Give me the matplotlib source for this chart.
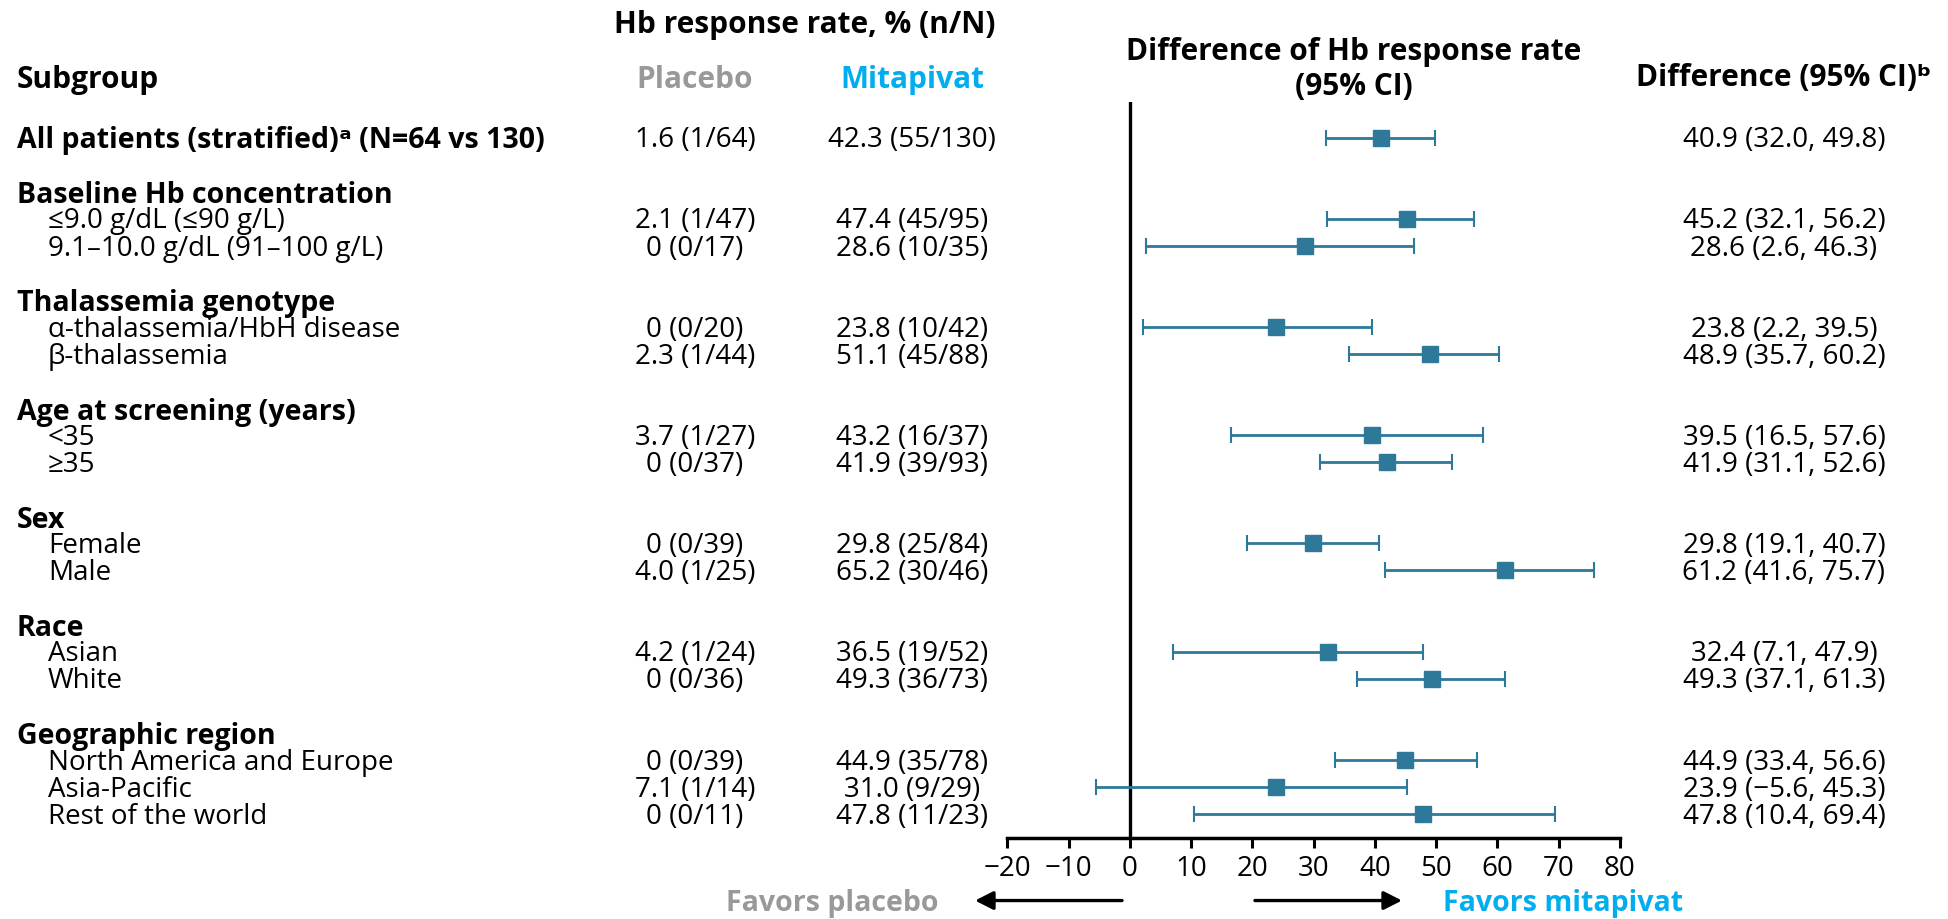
import matplotlib
matplotlib.use('Agg')
import matplotlib.pyplot as plt
from matplotlib.transforms import blended_transform_factory

plt.rcParams['font.family'] = ['Open Sans', 'DejaVu Sans']

# subgroup table
groupNames = ['Baseline Hb concentration', 'Thalassemia genotype', 'Age at screening (years)',
              'Sex', 'Race', 'Geographic region']
groupFirstRow = [1, 3, 5, 7, 9, 11]
rowLabels = ['All patients (stratified)\u1d43 (N=64 vs 130)',
             '\u22649.0 g/dL (\u226490 g/L)', '9.1\u201310.0 g/dL (91\u2013100 g/L)',
             '\u03b1-thalassemia/HbH disease', '\u03b2-thalassemia',
             '<35', '\u226535',
             'Female', 'Male',
             'Asian', 'White',
             'North America and Europe', 'Asia-Pacific', 'Rest of the world']
placeboRate = [1.6, 2.1, 0, 0, 2.3, 3.7, 0, 0, 4.0, 4.2, 0, 0, 7.1, 0]
placeboN = [1, 1, 0, 0, 1, 1, 0, 0, 1, 1, 0, 0, 1, 0]
placeboTotal = [64, 47, 17, 20, 44, 27, 37, 39, 25, 24, 36, 39, 14, 11]
mitapivatRate = [42.3, 47.4, 28.6, 23.8, 51.1, 43.2, 41.9, 29.8, 65.2, 36.5, 49.3, 44.9, 31.0, 47.8]
mitapivatN = [55, 45, 10, 10, 45, 16, 39, 25, 30, 19, 36, 35, 9, 11]
mitapivatTotal = [130, 95, 35, 42, 88, 37, 93, 84, 46, 52, 73, 78, 29, 23]
difference = [40.9, 45.2, 28.6, 23.8, 48.9, 39.5, 41.9, 29.8, 61.2, 32.4, 49.3, 44.9, 23.9, 47.8]
ciLow = [32.0, 32.1, 2.6, 2.2, 35.7, 16.5, 31.1, 19.1, 41.6, 7.1, 37.1, 33.4, -5.6, 10.4]
ciHigh = [49.8, 56.2, 46.3, 39.5, 60.2, 57.6, 52.6, 40.7, 75.7, 47.9, 61.3, 56.6, 45.3, 69.4]
xTicks = [-20, -10, 0, 10, 20, 30, 40, 50, 60, 70, 80]

# vertical slot of each row (groups separated by an extra gap)
rowPos = [0, 3, 4, 7, 8, 11, 12, 15, 16, 19, 20, 23, 24, 25]

BAR_COLOR = '#2E789A'
PLACEBO_COLOR = '#999999'
MITAPIVAT_COLOR = '#00AEEF'
BODY = 20
HEAD = 20.5
COLHEAD = 21.5
TEXT_SHIFT = 0.1   # row text sits a touch below the bars

W, H = 1949, 919
fig = plt.figure(figsize=(W / 100, H / 100), dpi=100)
ax = fig.add_axes([1007.5 / W, (H - 837.5) / H, 612.5 / W, 735.5 / H])
ax.set_xlim(-20, 80)
ax.set_ylim(25.87, -1.316)

for s in ['top', 'right', 'left']:
    ax.spines[s].set_visible(False)
ax.spines['bottom'].set_linewidth(2.5)
ax.set_yticks([])
ax.set_xticks(xTicks)
ax.tick_params(axis='x', direction='out', length=7.5, width=2.2, pad=5, labelsize=BODY)
ax.axvline(0, color='black', lw=2.4, zorder=1)

ax.errorbar(difference, rowPos,
            xerr=[[d - lo for d, lo in zip(difference, ciLow)],
                  [hi - d for d, hi in zip(difference, ciHigh)]],
            fmt='s', color=BAR_COLOR, ms=11.5, elinewidth=2.0, capsize=6, capthick=1.5, zorder=3)

tr = blended_transform_factory(fig.transFigure, ax.transData)

def fmtRate(r):
    return '0' if r == 0 else '%.1f' % r

for i, rp in enumerate(rowPos):
    y = rp + TEXT_SHIFT
    if i == 0:
        ax.text(17 / W, y, rowLabels[i], transform=tr, ha='left', va='center',
                fontsize=HEAD, fontweight='bold')
    else:
        ax.text(48 / W, y, rowLabels[i], transform=tr, ha='left', va='center', fontsize=BODY)
    ax.text(695 / W, y, '%s (%d/%d)' % (fmtRate(placeboRate[i]), placeboN[i], placeboTotal[i]),
            transform=tr, ha='center', va='center', fontsize=BODY)
    ax.text(912 / W, y, '%s (%d/%d)' % (fmtRate(mitapivatRate[i]), mitapivatN[i], mitapivatTotal[i]),
            transform=tr, ha='center', va='center', fontsize=BODY)
    diffText = '%.1f (%.1f, %.1f)' % (difference[i], ciLow[i], ciHigh[i])
    ax.text(1784 / W, y, diffText.replace('-', '\u2212'), transform=tr,
            ha='center', va='center', fontsize=BODY)

for name, first in zip(groupNames, groupFirstRow):
    ax.text(17 / W, rowPos[first] - 0.85, name, transform=tr, ha='left', va='center',
            fontsize=HEAD, fontweight='bold')

# column headers
def figText(x, y, s, **kw):
    fig.text(x / W, 1 - y / H, s, ha='center', va='center', fontweight='bold', **kw)

figText(805, 25, 'Hb response rate, % (n/N)', fontsize=COLHEAD)
fig.text(17 / W, 1 - 80 / H, 'Subgroup', ha='left', va='center', fontweight='bold', fontsize=COLHEAD)
figText(695, 80, 'Placebo', fontsize=COLHEAD, color=PLACEBO_COLOR)
figText(912, 80, 'Mitapivat', fontsize=COLHEAD, color=MITAPIVAT_COLOR)
figText(1354, 52, 'Difference of Hb response rate', fontsize=COLHEAD)
figText(1354, 87, '(95% CI)', fontsize=COLHEAD)
figText(1784, 78, 'Difference (95% CI)\u1d47', fontsize=COLHEAD)

# direction arrows under the axis
arrowY = 28.2
arrowStyle = dict(arrowstyle='-|>,head_length=0.55,head_width=0.28', lw=2.4, color='black',
                  mutation_scale=20, shrinkA=0, shrinkB=0)
ax.annotate('', xy=(-25.3, arrowY), xytext=(-1.3, arrowY), annotation_clip=False,
            arrowprops=arrowStyle)
ax.annotate('', xy=(44.4, arrowY), xytext=(20.4, arrowY), annotation_clip=False,
            arrowprops=arrowStyle)
ax.text(939 / W, arrowY + 0.1, 'Favors placebo', transform=tr, ha='right', va='center',
        fontsize=HEAD, fontweight='bold', color=PLACEBO_COLOR)
ax.text(1443 / W, arrowY + 0.1, 'Favors mitapivat', transform=tr, ha='left', va='center',
        fontsize=HEAD, fontweight='bold', color=MITAPIVAT_COLOR)

fig.savefig('out.png', dpi=100)
